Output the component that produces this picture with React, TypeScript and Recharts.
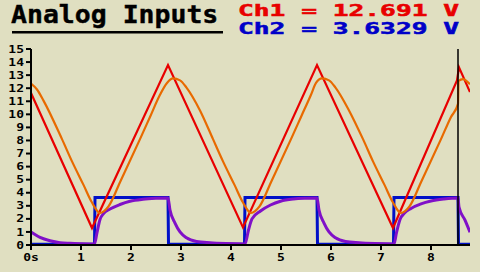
import { LineChart, Line, XAxis, YAxis, ReferenceLine } from "recharts";

// sample times (s) and readings (V) for each trace
const ch1Times = [0, 1.22, 2.74, 4.24, 5.72, 7.24, 8.52, 8.56, 8.78];
const ch1Volts = [11.63, 1.3, 13.77, 1.35, 13.77, 1.3, 12.6, 13.6, 11.7];

const ch1FiltTimes = [
  0, 0.12, 0.25, 0.62, 0.82, 1.05, 1.22, 1.38, 1.55, 1.78, 2.18, 2.38, 2.58, 2.72, 2.84, 2.98, 3.11, 3.38,
  3.64, 3.84, 4.07, 4.24, 4.4, 4.57, 4.8, 5.2, 5.4, 5.6, 5.7, 5.82, 5.96, 6.09, 6.36,
  6.64, 6.84, 7.07, 7.24, 7.4, 7.57, 7.8, 8.2, 8.4, 8.54, 8.55, 8.64, 8.78,
];
const ch1FiltVolts = [
  12.35, 11.9, 11.05, 8.1, 6.4, 4.6, 3.25, 2.45, 2.95, 4.8, 8.1, 9.8, 11.5, 12.4, 12.75, 12.6, 12.05, 10.3,
  8.1, 6.4, 4.6, 3.25, 2.45, 2.95, 4.8, 8.1, 9.8, 11.5, 12.4, 12.75, 12.6, 12.05, 10.3,
  8.1, 6.4, 4.6, 3.25, 2.45, 2.95, 4.8, 8.1, 9.8, 10.8, 12.55, 12.7, 12.3,
];

const ch2Times = [0, 1.27, 1.28, 2.74, 2.75, 4.27, 4.28, 5.72, 5.73, 7.25, 7.26, 8.54, 8.55, 8.78];
const ch2Volts = [0.05, 0.05, 3.63, 3.63, 0.05, 0.05, 3.63, 3.63, 0.05, 0.05, 3.63, 3.63, 0.05, 0.05];

const ch2FiltTimes = [
  0, 0.18, 0.38, 0.58, 0.78, 1.0, 1.27, 1.32, 1.38, 1.45, 1.58, 1.78, 1.98, 2.24, 2.5, 2.74,
  2.78, 2.88, 2.98, 3.11, 3.31, 3.58, 3.9, 4.28, 4.35, 4.42, 4.59, 4.79, 4.99, 5.25, 5.5, 5.72,
  5.76, 5.86, 5.96, 6.09, 6.29, 6.56, 6.88, 7.26, 7.31, 7.38, 7.47, 7.6, 7.8, 8.0, 8.26, 8.54,
  8.56, 8.68, 8.78,
];
const ch2FiltVolts = [
  1.0, 0.59, 0.33, 0.18, 0.13, 0.1, 0.08, 0.95, 1.95, 2.4, 2.75, 3.1, 3.35, 3.5, 3.57, 3.6,
  2.68, 1.68, 1.0, 0.55, 0.27, 0.17, 0.11, 0.08, 1.15, 2.0, 2.6, 3.06, 3.35, 3.52, 3.58, 3.6,
  2.68, 1.68, 1.0, 0.55, 0.27, 0.17, 0.11, 0.08, 0.95, 1.95, 2.45, 2.8, 3.15, 3.37, 3.52, 3.6,
  2.9, 1.9, 0.98,
];

const xTicks = [0, 1, 2, 3, 4, 5, 6, 7, 8];
const yTicks = [0, 1, 2, 3, 4, 5, 6, 7, 8, 9, 10, 11, 12, 13, 14, 15];
const cursorTime = 8.54;

const title = "Analog Inputs";
const ch1Label = "Ch1 = 12.691 V";
const ch2Label = "Ch2 = 3.6329 V";

const toPoints = (ts: number[], vs: number[]) => ts.map((t, i) => ({ t, v: vs[i] }));

const MONO = '"DejaVu Sans Mono", monospace';
const BG = "#e0dfc1";

function YTick(props: any) {
  const { x, y, payload } = props;
  return (
    <text
      transform={`translate(${x},${y}) scale(1.3,1)`}
      textAnchor="end"
      dy="0.36em"
      fontFamily={MONO}
      fontWeight="bold"
      fontSize={10}
      fill="#000"
    >
      {payload.value}
    </text>
  );
}

function XTick(props: any) {
  const { x, y, payload } = props;
  return (
    <text
      transform={`translate(${x},${y}) scale(1.3,1)`}
      textAnchor="middle"
      dy="0.71em"
      fontFamily={MONO}
      fontWeight="bold"
      fontSize={10}
      fill="#000"
    >
      {payload.value === 0 ? "0s" : payload.value}
    </text>
  );
}

export default function App() {
  const ch1 = toPoints(ch1Times, ch1Volts);
  const ch1Filt = toPoints(ch1FiltTimes, ch1FiltVolts);
  const ch2 = toPoints(ch2Times, ch2Volts);
  const ch2Filt = toPoints(ch2FiltTimes, ch2FiltVolts);

  return (
    <div style={{ position: "fixed", left: 0, top: 0, width: 480, height: 272, background: BG }}>
      <svg width={480} height={46} style={{ position: "absolute", left: 0, top: 0 }}>
        <text
          transform="translate(11,23.3) scale(1.06,1)"
          fontFamily={MONO}
          fontWeight="bold"
          fontSize={25}
          fill="#000"
          stroke="#000"
          strokeWidth={0.4}
        >
          {title}
        </text>
        <rect x={12} y={31} width={211} height={2.5} fill="#000" />
        <text
          transform="translate(238,16.3) scale(1.75,1)"
          fontFamily={MONO}
          fontWeight="bold"
          fontSize={15}
          fill="#e80000"
          stroke="#e80000"
          strokeWidth={0.5}
          xmlSpace="preserve"
        >
          {ch1Label}
        </text>
        <text
          transform="translate(238,34) scale(1.75,1)"
          fontFamily={MONO}
          fontWeight="bold"
          fontSize={15}
          fill="#0000c8"
          stroke="#0000c8"
          strokeWidth={0.5}
          xmlSpace="preserve"
        >
          {ch2Label}
        </text>
      </svg>
      <div style={{ position: "absolute", left: 0, top: 0 }}>
        <LineChart width={480} height={272} margin={{ top: 49, right: 10, bottom: 0, left: 0 }}>
          <XAxis
            type="number"
            dataKey="t"
            domain={[0, 8.78]}
            ticks={xTicks}
            interval={0}
            height={27}
            tickSize={5}
            tickMargin={4}
            axisLine={{ stroke: "#000", strokeWidth: 2 }}
            tickLine={{ stroke: "#000", strokeWidth: 2 }}
            tick={<XTick />}
            allowDataOverflow
          />
          <YAxis
            type="number"
            domain={[0, 15]}
            ticks={yTicks}
            interval={0}
            width={31}
            tickSize={5}
            tickMargin={2}
            axisLine={{ stroke: "#000", strokeWidth: 2 }}
            tickLine={{ stroke: "#000", strokeWidth: 2 }}
            tick={<YTick />}
            allowDataOverflow
          />
          <Line
            data={ch2}
            dataKey="v"
            type="linear"
            stroke="#0010c8"
            strokeWidth={3}
            dot={false}
            isAnimationActive={false}
          />
          <Line
            data={ch2Filt}
            dataKey="v"
            type="monotone"
            stroke="#8010c8"
            strokeWidth={3}
            dot={false}
            isAnimationActive={false}
          />
          <Line
            data={ch1}
            dataKey="v"
            type="linear"
            stroke="#e80000"
            strokeWidth={2.2}
            dot={false}
            isAnimationActive={false}
          />
          <Line
            data={ch1Filt}
            dataKey="v"
            type="monotone"
            stroke="#e86a00"
            strokeWidth={2.2}
            dot={false}
            isAnimationActive={false}
          />
          <ReferenceLine x={cursorTime} stroke="#000" strokeWidth={1.5} />
        </LineChart>
      </div>
    </div>
  );
}
